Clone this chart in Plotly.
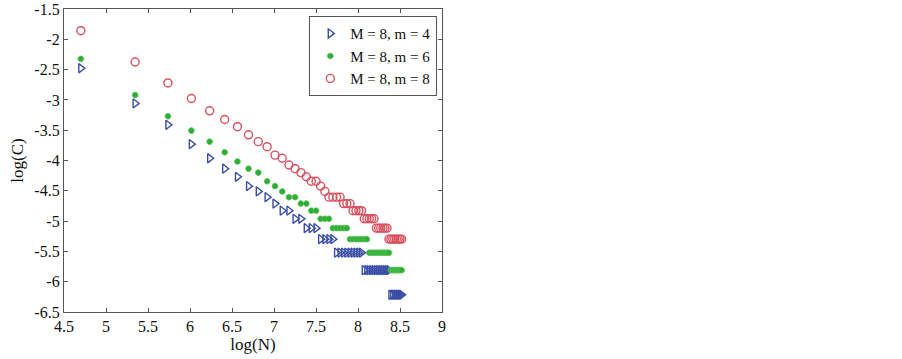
import plotly.graph_objects as go

# log(N) positions
log_n = [4.700, 5.347, 5.737, 6.016, 6.234, 6.413, 6.565, 6.697, 6.813, 6.918,
         7.012, 7.098, 7.178, 7.251, 7.320, 7.384, 7.444, 7.501, 7.555, 7.606,
         7.654, 7.701, 7.745, 7.787, 7.828, 7.867, 7.905, 7.941, 7.976, 8.010,
         8.042, 8.074, 8.105, 8.134, 8.163, 8.191, 8.219, 8.245, 8.271, 8.297,
         8.321, 8.345, 8.369, 8.392, 8.414, 8.436, 8.457, 8.479, 8.499, 8.519]

# M = 8, m = 4
log_c_m4 = [-2.477, -3.058, -3.411, -3.730, -3.963, -4.135, -4.269, -4.423, -4.510, -4.605,
            -4.711, -4.828, -4.828, -4.962, -4.962, -5.116, -5.116, -5.116, -5.298, -5.298,
            -5.298, -5.298, -5.521, -5.521, -5.521, -5.521, -5.521, -5.521, -5.521, -5.521,
            -5.521, -5.809, -5.809, -5.809, -5.809, -5.809, -5.809, -5.809, -5.809, -5.809,
            -5.809, -5.809, -5.809, -6.215, -6.215, -6.215, -6.215, -6.215, -6.215, -6.215]

# M = 8, m = 6
log_c_m6 = [-2.323, -2.919, -3.270, -3.507, -3.689, -3.863, -4.017, -4.135, -4.200, -4.343,
            -4.423, -4.510, -4.605, -4.605, -4.711, -4.711, -4.828, -4.828, -4.962, -4.962,
            -4.962, -5.116, -5.116, -5.116, -5.116, -5.116, -5.298, -5.298, -5.298, -5.298,
            -5.298, -5.298, -5.298, -5.521, -5.521, -5.521, -5.521, -5.521, -5.521, -5.521,
            -5.521, -5.521, -5.521, -5.809, -5.809, -5.809, -5.809, -5.809, -5.809, -5.809]

# M = 8, m = 8
log_c_m8 = [-1.858, -2.375, -2.720, -2.976, -3.180, -3.324, -3.442, -3.576, -3.689, -3.772,
            -3.912, -3.963, -4.075, -4.135, -4.200, -4.269, -4.343, -4.343, -4.423, -4.510,
            -4.605, -4.605, -4.605, -4.605, -4.711, -4.711, -4.711, -4.828, -4.828, -4.828,
            -4.828, -4.962, -4.962, -4.962, -4.962, -4.962, -5.116, -5.116, -5.116, -5.116,
            -5.116, -5.116, -5.298, -5.298, -5.298, -5.298, -5.298, -5.298, -5.298, -5.298]

series_names = ["M = 8, m = 4", "M = 8, m = 6", "M = 8, m = 8"]

x_tick_vals = [4.5, 5, 5.5, 6, 6.5, 7, 7.5, 8, 8.5, 9]
x_tick_text = ["4.5", "5", "5.5", "6", "6.5", "7", "7.5", "8", "8.5", "9"]
y_tick_vals = [-1.5, -2, -2.5, -3, -3.5, -4, -4.5, -5, -5.5, -6, -6.5]
y_tick_text = ["-1.5", "-2", "-2.5", "-3", "-3.5", "-4", "-4.5", "-5", "-5.5", "-6", "-6.5"]

FONT = "Liberation Serif, Times New Roman, serif"

fig = go.Figure()
fig.add_trace(go.Scatter(
    x=log_n, y=log_c_m4, mode="markers", name=series_names[0],
    marker=dict(symbol="triangle-right-open", size=8, color="#3a4da6",
                line=dict(width=1.4, color="#3a4da6"))))
fig.add_trace(go.Scatter(
    x=log_n, y=log_c_m6, mode="markers", name=series_names[1],
    marker=dict(symbol="octagon", size=6, color="#2fae35",
                line=dict(width=0.8, color="#5cc45c"))))
fig.add_trace(go.Scatter(
    x=log_n, y=log_c_m8, mode="markers", name=series_names[2],
    marker=dict(symbol="circle-open", size=8, color="#d9505e",
                line=dict(width=1.4, color="#d9505e"))))

axis_common = dict(
    showgrid=False, zeroline=False, showline=True, linecolor="#555555", linewidth=1.2,
    mirror="ticks", ticks="inside", ticklen=4, tickcolor="#555555", automargin=False,
    tickfont=dict(family=FONT, size=16, color="#111111"),
)

fig.update_layout(
    width=902, height=359,
    margin=dict(l=64, r=460, t=9, b=47),
    paper_bgcolor="white", plot_bgcolor="white",
    font=dict(family=FONT, size=15, color="#111111"),
    showlegend=True,
    legend=dict(x=0.987, y=0.977, xanchor="right", yanchor="top",
                bgcolor="white", bordercolor="#555555", borderwidth=1.2,
                font=dict(family=FONT, size=15, color="#111111"),
                itemwidth=30, tracegroupgap=0),
    xaxis=dict(range=[4.5, 9], tickvals=x_tick_vals, ticktext=x_tick_text,
               title=dict(text="log(N)", font=dict(family=FONT, size=17), standoff=2),
               **axis_common),
    yaxis=dict(range=[-6.5, -1.5], tickvals=y_tick_vals, ticktext=y_tick_text,
               title=dict(text="log(C)", font=dict(family=FONT, size=17), standoff=6),
               **axis_common),
)

fig.write_html("out.html",
               config={"displayModeBar": False},
               post_script="document.body.style.margin='0';document.body.style.padding='0';")
